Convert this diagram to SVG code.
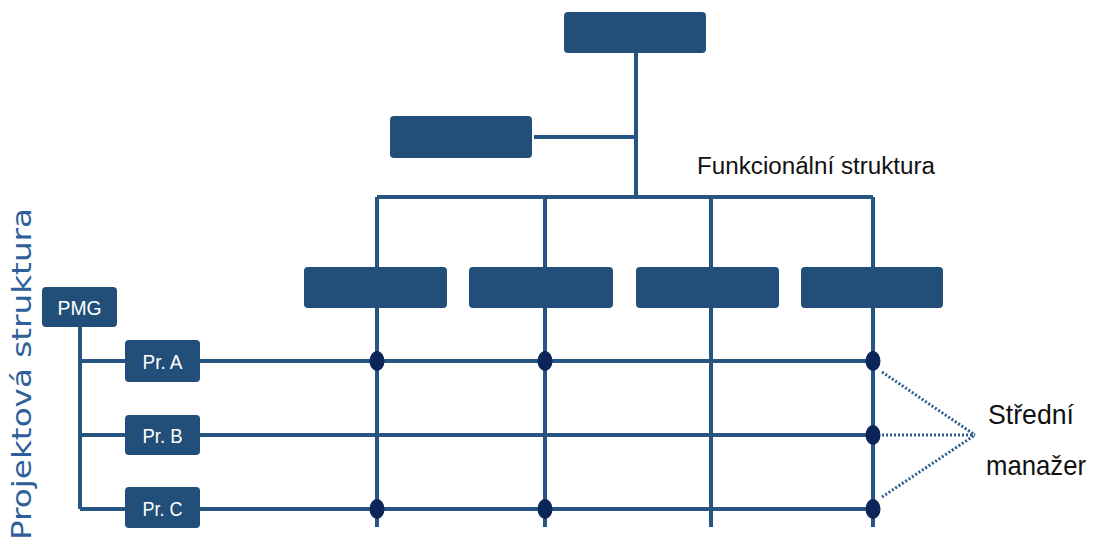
<svg xmlns="http://www.w3.org/2000/svg" width="1098" height="545" viewBox="0 0 1098 545">
<style>
.box{fill:#214f79;}
.ln{stroke:#275582;stroke-width:4;fill:none;}
.dot{fill:#0b2559;}
.dl{stroke:#2b5b91;stroke-width:3;stroke-dasharray:2 2;fill:none;}
.bt{font-family:"Liberation Sans",sans-serif;font-size:21px;fill:#ffffff;text-anchor:middle;}
.lb{font-family:"Liberation Sans",sans-serif;fill:#111111;}
</style>
<rect width="1098" height="545" fill="#ffffff"/>
<g id="connectors">
<path class="ln" d="M636 53 V197 M534 137 H636 M377 197 H873 M377 197 V527 M545 197 V527 M711 197 V527 M873 197 V527"/>
<path class="ln" d="M80 327 V509 M80 361 H873 M80 435 H873 M80 509 H873"/>
<path class="dl" d="M882 372 L975 435 M882 435 H975 M882 497 L975 435"/>
</g>
<g id="top"><rect class="box" x="564" y="12" width="142" height="41" rx="4"/></g>
<g id="second"><rect class="box" x="390" y="116" width="142" height="42" rx="4"/></g>
<g id="f1"><rect class="box" x="304" y="267" width="143" height="41" rx="4"/></g>
<g id="f2"><rect class="box" x="469" y="267" width="144" height="41" rx="4"/></g>
<g id="f3"><rect class="box" x="636" y="267" width="143" height="41" rx="4"/></g>
<g id="f4"><rect class="box" x="801" y="267" width="142" height="41" rx="4"/></g>
<g id="pmg"><rect class="box" x="42" y="287" width="75" height="40" rx="4"/><text class="bt" x="79.5" y="315" textLength="44" lengthAdjust="spacingAndGlyphs">PMG</text></g>
<g id="prA"><rect class="box" x="125" y="340" width="75" height="42" rx="4"/><text class="bt" x="162.5" y="369" textLength="40" lengthAdjust="spacingAndGlyphs">Pr. A</text></g>
<g id="prB"><rect class="box" x="125" y="415" width="75" height="40" rx="4"/><text class="bt" x="162.5" y="443" textLength="40" lengthAdjust="spacingAndGlyphs">Pr. B</text></g>
<g id="prC"><rect class="box" x="125" y="487" width="75" height="41" rx="4"/><text class="bt" x="162.5" y="516" textLength="40" lengthAdjust="spacingAndGlyphs">Pr. C</text></g>
<g id="dots">
<ellipse class="dot" cx="377" cy="361" rx="7.5" ry="10"/>
<ellipse class="dot" cx="545" cy="361" rx="7.5" ry="10"/>
<ellipse class="dot" cx="873" cy="361" rx="7.5" ry="10"/>
<ellipse class="dot" cx="873" cy="435" rx="7.5" ry="10"/>
<ellipse class="dot" cx="377" cy="509" rx="7.5" ry="10"/>
<ellipse class="dot" cx="545" cy="509" rx="7.5" ry="10"/>
<ellipse class="dot" cx="873" cy="509" rx="7.5" ry="10"/>
</g>
<text class="lb" x="989" y="174" font-size="23" textLength="238" lengthAdjust="spacingAndGlyphs" transform="translate(-292 0)">Funkcionální struktura</text>
<text class="lb" x="988" y="424" font-size="28" textLength="86" lengthAdjust="spacingAndGlyphs">Střední</text>
<text class="lb" x="986" y="475" font-size="28" textLength="100" lengthAdjust="spacingAndGlyphs">manažer</text>
<text transform="translate(31 374) rotate(-90)" x="0" y="0" font-family="'DejaVu Sans',sans-serif" font-size="27" fill="#2e5f98" text-anchor="middle" textLength="332" lengthAdjust="spacingAndGlyphs">Projektová struktura</text>
</svg>
